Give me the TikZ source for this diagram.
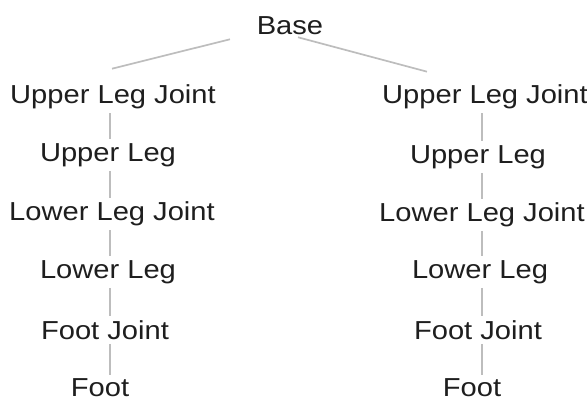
\documentclass[tikz,border=0pt]{standalone}
\usepackage{fontspec}
\setmainfont{Liberation Sans}[FakeStretch=1.12]
\usetikzlibrary{calc}
\definecolor{linkgray}{HTML}{BDBDBD}
\definecolor{labelink}{HTML}{1E1E1E}
\tikzset{
  part/.style={inner sep=2pt, text=labelink, font=\fontsize{26}{29}\selectfont, anchor=center},
  link/.style={draw=linkgray, line width=1.7pt},
  bone/.style={draw=linkgray, line width=1.3pt, shorten <=2pt, shorten >=2pt},
}
\begin{document}
\begin{tikzpicture}[x=1pt,y=-1pt]
\useasboundingbox (0,0) rectangle (587,408);

\node[part] (base) at (290,26) {Base};

% left leg chain
\node[part] (lulj) at (113,97)  {Upper Leg Joint};
\node[part] (lul)  at (108,155) {Upper Leg};
\node[part] (lllj) at (112,214) {Lower Leg Joint};
\node[part] (lll)  at (108,272) {Lower Leg};
\node[part] (lfj)  at (105,330) {Foot Joint};
\node[part] (lf)   at (100,388) {Foot};

% right leg chain
\node[part] (rulj) at (485,97)  {Upper Leg Joint};
\node[part] (rul)  at (478,157) {Upper Leg};
\node[part] (rllj) at (482,215) {Lower Leg Joint};
\node[part] (rll)  at (480,272) {Lower Leg};
\node[part] (rfj)  at (478,330) {Foot Joint};
\node[part] (rf)   at (472,388) {Foot};

% spine lines of the two legs
\coordinate (lx) at (110,0);
\coordinate (rx) at (482,0);

% branches from the base
\coordinate (bl) at ($(base.south)+(-60,2)$);
\coordinate (br) at ($(base.south)+(8,0)$);
\coordinate (lt) at ($(lulj.north)+(-1,-14)$);
\coordinate (rt) at ($(rulj.north)+(-58,-11)$);
\draw[link] (bl) -- (lt);
\draw[link] (br) -- (rt);

% joints along each leg
\foreach \a/\b in {lulj/lul, lul/lllj, lllj/lll, lll/lfj, lfj/lf}
  \draw[bone] (\a.south -| lx) -- (\b.north -| lx);
\foreach \a/\b in {rulj/rul, rul/rllj, rllj/rll, rll/rfj, rfj/rf}
  \draw[bone] (\a.south -| rx) -- (\b.north -| rx);
\end{tikzpicture}
\end{document}
